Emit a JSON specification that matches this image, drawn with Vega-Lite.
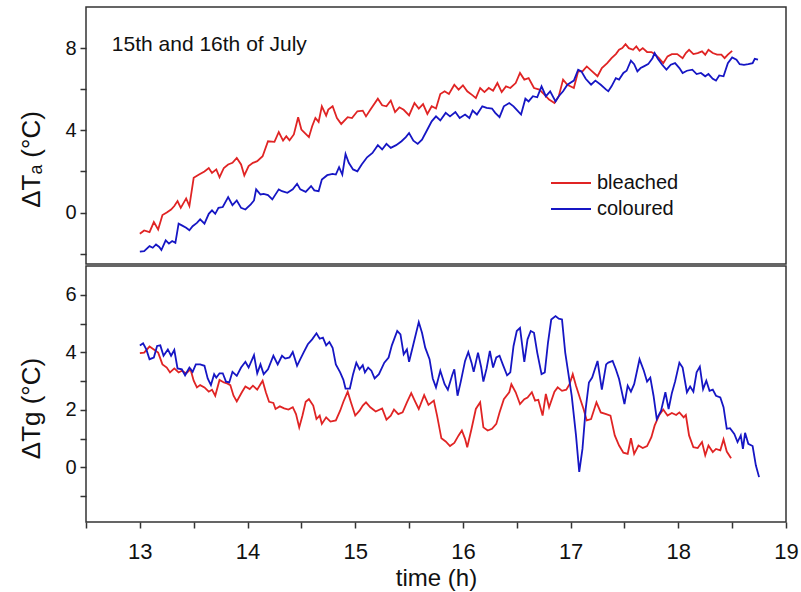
{
"$schema": "https://vega.github.io/schema/vega-lite/v6.json",
"padding": {"left": 18, "top": 6, "right": 5, "bottom": 5},
"background": "white",
"spacing": 0,
"config": {
 "font": "Liberation Sans",
 "view": {"stroke": "#333333", "strokeWidth": 1.5},
 "axis": {"domain": false, "grid": false, "tickColor": "#333333", "tickWidth": 1.5, "tickSize": 6, "labelColor": "#111111", "titleColor": "#111111", "titleFontWeight": "normal", "labelOverlap": false, "labelFlush": false}
},
"datasets": {
 "ta": [
{"series":"bleached","time":13.00,"value":-1.03},{"series":"bleached","time":13.04,"value":-0.87},{"series":"bleached","time":13.09,"value":-0.95},{"series":"bleached","time":13.13,"value":-0.46},{"series":"bleached","time":13.17,"value":-0.82},{"series":"bleached","time":13.21,"value":-0.12},{"series":"bleached","time":13.25,"value":0.0},{"series":"bleached","time":13.29,"value":0.15},{"series":"bleached","time":13.32,"value":0.32},{"series":"bleached","time":13.35,"value":0.56},{"series":"bleached","time":13.38,"value":0.23},{"series":"bleached","time":13.43,"value":0.69},{"series":"bleached","time":13.46,"value":0.32},{"series":"bleached","time":13.50,"value":1.69},{"series":"bleached","time":13.55,"value":1.85},{"series":"bleached","time":13.60,"value":2.0},{"series":"bleached","time":13.64,"value":2.17},{"series":"bleached","time":13.67,"value":1.93},{"series":"bleached","time":13.71,"value":2.1},{"series":"bleached","time":13.74,"value":1.72},{"series":"bleached","time":13.78,"value":2.17},{"series":"bleached","time":13.82,"value":2.34},{"series":"bleached","time":13.86,"value":2.42},{"series":"bleached","time":13.90,"value":2.66},{"series":"bleached","time":13.94,"value":2.34},{"series":"bleached","time":13.97,"value":1.81},{"series":"bleached","time":14.01,"value":2.26},{"series":"bleached","time":14.05,"value":2.42},{"series":"bleached","time":14.09,"value":2.5},{"series":"bleached","time":14.14,"value":2.74},{"series":"bleached","time":14.19,"value":3.47},{"series":"bleached","time":14.25,"value":3.44},{"series":"bleached","time":14.29,"value":3.92},{"series":"bleached","time":14.33,"value":3.5},{"series":"bleached","time":14.36,"value":3.71},{"series":"bleached","time":14.39,"value":3.52},{"series":"bleached","time":14.43,"value":3.8},{"series":"bleached","time":14.47,"value":4.64},{"series":"bleached","time":14.50,"value":4.04},{"series":"bleached","time":14.54,"value":3.83},{"series":"bleached","time":14.57,"value":3.67},{"series":"bleached","time":14.60,"value":4.2},{"series":"bleached","time":14.63,"value":4.6},{"series":"bleached","time":14.66,"value":4.41},{"series":"bleached","time":14.69,"value":5.17},{"series":"bleached","time":14.73,"value":4.72},{"series":"bleached","time":14.75,"value":5.01},{"series":"bleached","time":14.79,"value":5.17},{"series":"bleached","time":14.83,"value":4.6},{"series":"bleached","time":14.87,"value":4.31},{"series":"bleached","time":14.93,"value":4.64},{"series":"bleached","time":14.97,"value":4.6},{"series":"bleached","time":15.02,"value":4.93},{"series":"bleached","time":15.07,"value":4.96},{"series":"bleached","time":15.10,"value":4.68},{"series":"bleached","time":15.14,"value":5.0},{"series":"bleached","time":15.21,"value":5.54},{"series":"bleached","time":15.25,"value":5.22},{"series":"bleached","time":15.29,"value":5.17},{"series":"bleached","time":15.33,"value":5.45},{"series":"bleached","time":15.37,"value":4.89},{"series":"bleached","time":15.41,"value":5.12},{"series":"bleached","time":15.45,"value":5.0},{"series":"bleached","time":15.50,"value":4.73},{"series":"bleached","time":15.55,"value":5.33},{"series":"bleached","time":15.59,"value":5.06},{"series":"bleached","time":15.63,"value":5.28},{"series":"bleached","time":15.67,"value":4.8},{"series":"bleached","time":15.71,"value":5.17},{"series":"bleached","time":15.75,"value":5.06},{"series":"bleached","time":15.79,"value":5.77},{"series":"bleached","time":15.83,"value":5.9},{"series":"bleached","time":15.87,"value":5.77},{"series":"bleached","time":15.92,"value":6.22},{"series":"bleached","time":15.96,"value":5.98},{"series":"bleached","time":16.00,"value":6.19},{"series":"bleached","time":16.04,"value":5.9},{"series":"bleached","time":16.09,"value":5.7},{"series":"bleached","time":16.12,"value":5.57},{"series":"bleached","time":16.16,"value":6.06},{"series":"bleached","time":16.20,"value":5.86},{"series":"bleached","time":16.24,"value":6.06},{"series":"bleached","time":16.28,"value":5.93},{"series":"bleached","time":16.32,"value":6.30},{"series":"bleached","time":16.36,"value":5.86},{"series":"bleached","time":16.40,"value":6.14},{"series":"bleached","time":16.44,"value":6.06},{"series":"bleached","time":16.49,"value":6.30},{"series":"bleached","time":16.53,"value":6.79},{"series":"bleached","time":16.57,"value":6.47},{"series":"bleached","time":16.61,"value":6.54},{"series":"bleached","time":16.66,"value":6.06},{"series":"bleached","time":16.71,"value":5.98},{"series":"bleached","time":16.75,"value":5.77},{"series":"bleached","time":16.80,"value":5.5},{"series":"bleached","time":16.85,"value":5.33},{"series":"bleached","time":16.89,"value":5.66},{"series":"bleached","time":16.93,"value":6.47},{"series":"bleached","time":16.97,"value":6.22},{"series":"bleached","time":17.03,"value":6.06},{"series":"bleached","time":17.07,"value":6.87},{"series":"bleached","time":17.11,"value":6.87},{"series":"bleached","time":17.15,"value":7.11},{"series":"bleached","time":17.20,"value":6.87},{"series":"bleached","time":17.25,"value":6.63},{"series":"bleached","time":17.29,"value":7.03},{"series":"bleached","time":17.34,"value":7.27},{"series":"bleached","time":17.38,"value":7.51},{"series":"bleached","time":17.42,"value":7.71},{"series":"bleached","time":17.45,"value":7.92},{"series":"bleached","time":17.48,"value":8.0},{"series":"bleached","time":17.51,"value":8.19},{"series":"bleached","time":17.54,"value":8.0},{"series":"bleached","time":17.58,"value":7.92},{"series":"bleached","time":17.61,"value":8.08},{"series":"bleached","time":17.64,"value":7.87},{"series":"bleached","time":17.67,"value":8.0},{"series":"bleached","time":17.71,"value":7.81},{"series":"bleached","time":17.75,"value":7.81},{"series":"bleached","time":17.78,"value":7.71},{"series":"bleached","time":17.82,"value":7.51},{"series":"bleached","time":17.86,"value":7.27},{"series":"bleached","time":17.90,"value":7.6},{"series":"bleached","time":17.94,"value":7.71},{"series":"bleached","time":17.99,"value":7.71},{"series":"bleached","time":18.04,"value":7.51},{"series":"bleached","time":18.07,"value":7.76},{"series":"bleached","time":18.10,"value":7.92},{"series":"bleached","time":18.14,"value":7.71},{"series":"bleached","time":18.18,"value":7.76},{"series":"bleached","time":18.22,"value":7.84},{"series":"bleached","time":18.25,"value":7.68},{"series":"bleached","time":18.28,"value":7.92},{"series":"bleached","time":18.32,"value":7.76},{"series":"bleached","time":18.36,"value":7.68},{"series":"bleached","time":18.40,"value":7.68},{"series":"bleached","time":18.43,"value":7.51},{"series":"bleached","time":18.46,"value":7.68},{"series":"bleached","time":18.50,"value":7.87},
{"series":"coloured","time":13.00,"value":-1.9},{"series":"coloured","time":13.04,"value":-1.87},{"series":"coloured","time":13.09,"value":-1.63},{"series":"coloured","time":13.12,"value":-1.71},{"series":"coloured","time":13.15,"value":-1.55},{"series":"coloured","time":13.18,"value":-1.67},{"series":"coloured","time":13.20,"value":-1.82},{"series":"coloured","time":13.24,"value":-1.35},{"series":"coloured","time":13.27,"value":-1.51},{"series":"coloured","time":13.30,"value":-1.38},{"series":"coloured","time":13.33,"value":-1.47},{"series":"coloured","time":13.36,"value":-0.54},{"series":"coloured","time":13.39,"value":-0.62},{"series":"coloured","time":13.43,"value":-0.74},{"series":"coloured","time":13.46,"value":-0.86},{"series":"coloured","time":13.49,"value":-0.66},{"series":"coloured","time":13.53,"value":-0.5},{"series":"coloured","time":13.56,"value":-0.33},{"series":"coloured","time":13.60,"value":-0.54},{"series":"coloured","time":13.64,"value":-0.06},{"series":"coloured","time":13.67,"value":0.11},{"series":"coloured","time":13.70,"value":-0.06},{"series":"coloured","time":13.73,"value":0.23},{"series":"coloured","time":13.77,"value":0.27},{"series":"coloured","time":13.82,"value":0.75},{"series":"coloured","time":13.86,"value":0.36},{"series":"coloured","time":13.90,"value":0.59},{"series":"coloured","time":13.94,"value":0.23},{"series":"coloured","time":13.98,"value":0.15},{"series":"coloured","time":14.03,"value":0.40},{"series":"coloured","time":14.06,"value":0.59},{"series":"coloured","time":14.08,"value":1.13},{"series":"coloured","time":14.12,"value":0.88},{"series":"coloured","time":14.15,"value":0.91},{"series":"coloured","time":14.19,"value":0.85},{"series":"coloured","time":14.23,"value":0.64},{"series":"coloured","time":14.29,"value":1.13},{"series":"coloured","time":14.32,"value":1.04},{"series":"coloured","time":14.37,"value":0.96},{"series":"coloured","time":14.42,"value":1.13},{"series":"coloured","time":14.46,"value":1.4},{"series":"coloured","time":14.49,"value":1.13},{"series":"coloured","time":14.54,"value":1.01},{"series":"coloured","time":14.59,"value":1.29},{"series":"coloured","time":14.62,"value":1.08},{"series":"coloured","time":14.66,"value":1.04},{"series":"coloured","time":14.69,"value":1.61},{"series":"coloured","time":14.74,"value":1.82},{"series":"coloured","time":14.79,"value":1.88},{"series":"coloured","time":14.82,"value":1.85},{"series":"coloured","time":14.85,"value":2.21},{"series":"coloured","time":14.88,"value":1.85},{"series":"coloured","time":14.91,"value":2.85},{"series":"coloured","time":14.94,"value":2.42},{"series":"coloured","time":14.98,"value":2.10},{"series":"coloured","time":15.02,"value":2.01},{"series":"coloured","time":15.06,"value":2.34},{"series":"coloured","time":15.11,"value":2.69},{"series":"coloured","time":15.16,"value":2.9},{"series":"coloured","time":15.21,"value":3.28},{"series":"coloured","time":15.25,"value":3.07},{"series":"coloured","time":15.29,"value":3.34},{"series":"coloured","time":15.33,"value":3.15},{"series":"coloured","time":15.38,"value":3.28},{"series":"coloured","time":15.43,"value":3.47},{"series":"coloured","time":15.47,"value":3.67},{"series":"coloured","time":15.50,"value":3.87},{"series":"coloured","time":15.54,"value":3.5},{"series":"coloured","time":15.58,"value":3.34},{"series":"coloured","time":15.62,"value":3.55},{"series":"coloured","time":15.67,"value":4.04},{"series":"coloured","time":15.71,"value":4.44},{"series":"coloured","time":15.75,"value":4.68},{"series":"coloured","time":15.79,"value":4.48},{"series":"coloured","time":15.84,"value":4.85},{"series":"coloured","time":15.88,"value":4.68},{"series":"coloured","time":15.93,"value":4.89},{"series":"coloured","time":15.97,"value":4.6},{"series":"coloured","time":16.02,"value":4.77},{"series":"coloured","time":16.06,"value":4.6},{"series":"coloured","time":16.09,"value":4.96},{"series":"coloured","time":16.13,"value":4.77},{"series":"coloured","time":16.18,"value":5.17},{"series":"coloured","time":16.22,"value":5.09},{"series":"coloured","time":16.27,"value":5.06},{"series":"coloured","time":16.30,"value":4.85},{"series":"coloured","time":16.34,"value":4.64},{"series":"coloured","time":16.38,"value":5.17},{"series":"coloured","time":16.43,"value":5.33},{"series":"coloured","time":16.47,"value":5.17},{"series":"coloured","time":16.50,"value":5.0},{"series":"coloured","time":16.54,"value":4.77},{"series":"coloured","time":16.58,"value":5.54},{"series":"coloured","time":16.61,"value":5.41},{"series":"coloured","time":16.65,"value":5.66},{"series":"coloured","time":16.69,"value":5.61},{"series":"coloured","time":16.73,"value":6.14},{"series":"coloured","time":16.77,"value":5.66},{"series":"coloured","time":16.81,"value":5.9},{"series":"coloured","time":16.86,"value":5.41},{"series":"coloured","time":16.89,"value":5.66},{"series":"coloured","time":16.93,"value":5.9},{"series":"coloured","time":16.97,"value":6.22},{"series":"coloured","time":17.03,"value":6.42},{"series":"coloured","time":17.07,"value":6.95},{"series":"coloured","time":17.10,"value":6.87},{"series":"coloured","time":17.14,"value":6.51},{"series":"coloured","time":17.19,"value":6.22},{"series":"coloured","time":17.23,"value":6.42},{"series":"coloured","time":17.28,"value":6.22},{"series":"coloured","time":17.33,"value":5.98},{"series":"coloured","time":17.35,"value":5.9},{"series":"coloured","time":17.38,"value":6.14},{"series":"coloured","time":17.42,"value":6.54},{"series":"coloured","time":17.45,"value":6.47},{"series":"coloured","time":17.49,"value":6.79},{"series":"coloured","time":17.52,"value":6.9},{"series":"coloured","time":17.56,"value":7.39},{"series":"coloured","time":17.59,"value":7.22},{"series":"coloured","time":17.62,"value":6.87},{"series":"coloured","time":17.65,"value":7.03},{"series":"coloured","time":17.68,"value":7.11},{"series":"coloured","time":17.72,"value":7.22},{"series":"coloured","time":17.76,"value":7.51},{"series":"coloured","time":17.78,"value":7.76},{"series":"coloured","time":17.81,"value":7.48},{"series":"coloured","time":17.85,"value":7.19},{"series":"coloured","time":17.89,"value":6.95},{"series":"coloured","time":17.93,"value":7.19},{"series":"coloured","time":17.97,"value":7.27},{"series":"coloured","time":18.01,"value":7.03},{"series":"coloured","time":18.04,"value":6.79},{"series":"coloured","time":18.08,"value":6.9},{"series":"coloured","time":18.13,"value":6.95},{"series":"coloured","time":18.17,"value":6.74},{"series":"coloured","time":18.21,"value":6.79},{"series":"coloured","time":18.25,"value":6.63},{"series":"coloured","time":18.28,"value":6.74},{"series":"coloured","time":18.32,"value":6.51},{"series":"coloured","time":18.35,"value":6.42},{"series":"coloured","time":18.38,"value":6.67},{"series":"coloured","time":18.42,"value":6.63},{"series":"coloured","time":18.46,"value":7.27},{"series":"coloured","time":18.50,"value":7.55},{"series":"coloured","time":18.54,"value":7.44},{"series":"coloured","time":18.57,"value":7.22},{"series":"coloured","time":18.61,"value":7.19},{"series":"coloured","time":18.65,"value":7.22},{"series":"coloured","time":18.69,"value":7.27},{"series":"coloured","time":18.71,"value":7.48},{"series":"coloured","time":18.74,"value":7.44}
 ],
 "tg": [
{"series":"bleached","time":13.00,"value":3.97},{"series":"bleached","time":13.04,"value":3.99},{"series":"bleached","time":13.09,"value":4.2},{"series":"bleached","time":13.13,"value":4.1},{"series":"bleached","time":13.17,"value":3.99},{"series":"bleached","time":13.21,"value":3.58},{"series":"bleached","time":13.25,"value":3.47},{"series":"bleached","time":13.28,"value":3.3},{"series":"bleached","time":13.32,"value":3.44},{"series":"bleached","time":13.36,"value":3.3},{"series":"bleached","time":13.39,"value":3.36},{"series":"bleached","time":13.43,"value":3.27},{"series":"bleached","time":13.47,"value":3.41},{"series":"bleached","time":13.50,"value":3.01},{"series":"bleached","time":13.53,"value":2.78},{"series":"bleached","time":13.56,"value":2.86},{"series":"bleached","time":13.60,"value":2.78},{"series":"bleached","time":13.64,"value":2.63},{"series":"bleached","time":13.67,"value":2.7},{"series":"bleached","time":13.70,"value":2.49},{"series":"bleached","time":13.74,"value":3.04},{"series":"bleached","time":13.78,"value":2.95},{"series":"bleached","time":13.81,"value":2.92},{"series":"bleached","time":13.84,"value":2.86},{"series":"bleached","time":13.87,"value":2.49},{"series":"bleached","time":13.90,"value":2.29},{"series":"bleached","time":13.95,"value":2.63},{"series":"bleached","time":13.98,"value":2.81},{"series":"bleached","time":14.02,"value":2.72},{"series":"bleached","time":14.05,"value":2.84},{"series":"bleached","time":14.09,"value":2.7},{"series":"bleached","time":14.12,"value":2.89},{"series":"bleached","time":14.14,"value":3.01},{"series":"bleached","time":14.17,"value":2.61},{"series":"bleached","time":14.20,"value":2.28},{"series":"bleached","time":14.24,"value":2.24},{"series":"bleached","time":14.26,"value":2.03},{"series":"bleached","time":14.30,"value":2.12},{"series":"bleached","time":14.34,"value":2.05},{"series":"bleached","time":14.38,"value":2.01},{"series":"bleached","time":14.42,"value":2.09},{"series":"bleached","time":14.45,"value":1.85},{"series":"bleached","time":14.48,"value":1.39},{"series":"bleached","time":14.51,"value":1.8},{"series":"bleached","time":14.54,"value":2.28},{"series":"bleached","time":14.57,"value":2.37},{"series":"bleached","time":14.61,"value":2.15},{"series":"bleached","time":14.64,"value":1.68},{"series":"bleached","time":14.67,"value":1.8},{"series":"bleached","time":14.69,"value":1.51},{"series":"bleached","time":14.73,"value":1.74},{"series":"bleached","time":14.77,"value":1.59},{"series":"bleached","time":14.82,"value":1.63},{"series":"bleached","time":14.86,"value":1.97},{"series":"bleached","time":14.89,"value":2.28},{"series":"bleached","time":14.93,"value":2.63},{"series":"bleached","time":14.96,"value":2.26},{"series":"bleached","time":15.00,"value":1.8},{"series":"bleached","time":15.04,"value":1.97},{"series":"bleached","time":15.07,"value":2.15},{"series":"bleached","time":15.10,"value":2.26},{"series":"bleached","time":15.14,"value":2.09},{"series":"bleached","time":15.19,"value":1.94},{"series":"bleached","time":15.25,"value":2.05},{"series":"bleached","time":15.29,"value":1.66},{"series":"bleached","time":15.33,"value":1.8},{"series":"bleached","time":15.36,"value":2.01},{"series":"bleached","time":15.40,"value":1.85},{"series":"bleached","time":15.44,"value":1.91},{"series":"bleached","time":15.48,"value":2.26},{"series":"bleached","time":15.52,"value":2.58},{"series":"bleached","time":15.56,"value":2.26},{"series":"bleached","time":15.59,"value":2.03},{"series":"bleached","time":15.64,"value":2.51},{"series":"bleached","time":15.68,"value":2.17},{"series":"bleached","time":15.73,"value":2.32},{"series":"bleached","time":15.76,"value":1.8},{"series":"bleached","time":15.80,"value":1.01},{"series":"bleached","time":15.84,"value":0.9},{"series":"bleached","time":15.88,"value":0.74},{"series":"bleached","time":15.92,"value":0.85},{"series":"bleached","time":15.96,"value":1.11},{"series":"bleached","time":15.99,"value":1.28},{"series":"bleached","time":16.02,"value":0.99},{"series":"bleached","time":16.04,"value":0.70},{"series":"bleached","time":16.08,"value":1.34},{"series":"bleached","time":16.12,"value":2.03},{"series":"bleached","time":16.16,"value":2.26},{"series":"bleached","time":16.19,"value":1.39},{"series":"bleached","time":16.23,"value":1.28},{"series":"bleached","time":16.27,"value":1.34},{"series":"bleached","time":16.31,"value":1.51},{"series":"bleached","time":16.34,"value":1.91},{"series":"bleached","time":16.38,"value":2.37},{"series":"bleached","time":16.43,"value":2.61},{"series":"bleached","time":16.45,"value":2.89},{"series":"bleached","time":16.49,"value":2.61},{"series":"bleached","time":16.53,"value":2.2},{"series":"bleached","time":16.57,"value":2.37},{"series":"bleached","time":16.60,"value":2.43},{"series":"bleached","time":16.64,"value":2.61},{"series":"bleached","time":16.67,"value":2.32},{"series":"bleached","time":16.70,"value":2.35},{"series":"bleached","time":16.74,"value":1.8},{"series":"bleached","time":16.77,"value":2.55},{"series":"bleached","time":16.80,"value":2.09},{"series":"bleached","time":16.85,"value":2.63},{"series":"bleached","time":16.88,"value":2.78},{"series":"bleached","time":16.92,"value":2.66},{"series":"bleached","time":16.96,"value":2.7},{"series":"bleached","time":16.99,"value":2.89},{"series":"bleached","time":17.02,"value":3.24},{"series":"bleached","time":17.05,"value":2.84},{"series":"bleached","time":17.09,"value":2.37},{"series":"bleached","time":17.12,"value":2.03},{"series":"bleached","time":17.15,"value":1.63},{"series":"bleached","time":17.19,"value":1.68},{"series":"bleached","time":17.24,"value":2.26},{"series":"bleached","time":17.28,"value":1.91},{"series":"bleached","time":17.33,"value":1.85},{"series":"bleached","time":17.37,"value":1.8},{"series":"bleached","time":17.41,"value":1.11},{"series":"bleached","time":17.45,"value":0.76},{"series":"bleached","time":17.49,"value":0.51},{"series":"bleached","time":17.53,"value":0.47},{"series":"bleached","time":17.56,"value":1.01},{"series":"bleached","time":17.59,"value":0.47},{"series":"bleached","time":17.63,"value":0.76},{"series":"bleached","time":17.67,"value":0.67},{"series":"bleached","time":17.71,"value":0.74},{"series":"bleached","time":17.75,"value":1.05},{"series":"bleached","time":17.78,"value":1.45},{"series":"bleached","time":17.82,"value":1.8},{"series":"bleached","time":17.86,"value":2.01},{"series":"bleached","time":17.90,"value":1.8},{"series":"bleached","time":17.94,"value":1.89},{"series":"bleached","time":17.98,"value":1.82},{"series":"bleached","time":18.01,"value":1.91},{"series":"bleached","time":18.05,"value":1.74},{"series":"bleached","time":18.07,"value":1.82},{"series":"bleached","time":18.10,"value":1.11},{"series":"bleached","time":18.14,"value":0.70},{"series":"bleached","time":18.18,"value":0.67},{"series":"bleached","time":18.22,"value":0.88},{"series":"bleached","time":18.25,"value":0.42},{"series":"bleached","time":18.28,"value":0.76},{"series":"bleached","time":18.32,"value":0.53},{"series":"bleached","time":18.35,"value":0.64},{"series":"bleached","time":18.39,"value":0.59},{"series":"bleached","time":18.42,"value":0.97},{"series":"bleached","time":18.45,"value":0.55},{"series":"bleached","time":18.49,"value":0.32},
{"series":"coloured","time":13.00,"value":4.24},{"series":"coloured","time":13.03,"value":4.31},{"series":"coloured","time":13.06,"value":4.1},{"series":"coloured","time":13.09,"value":3.76},{"series":"coloured","time":13.13,"value":3.82},{"series":"coloured","time":13.16,"value":4.22},{"series":"coloured","time":13.19,"value":4.24},{"series":"coloured","time":13.22,"value":3.88},{"series":"coloured","time":13.26,"value":4.1},{"series":"coloured","time":13.29,"value":3.88},{"series":"coloured","time":13.32,"value":4.08},{"series":"coloured","time":13.35,"value":3.44},{"series":"coloured","time":13.39,"value":3.41},{"series":"coloured","time":13.42,"value":3.2},{"series":"coloured","time":13.46,"value":3.47},{"series":"coloured","time":13.49,"value":3.32},{"series":"coloured","time":13.52,"value":3.58},{"series":"coloured","time":13.56,"value":3.58},{"series":"coloured","time":13.60,"value":3.53},{"series":"coloured","time":13.63,"value":3.09},{"series":"coloured","time":13.66,"value":2.86},{"series":"coloured","time":13.69,"value":3.24},{"series":"coloured","time":13.71,"value":3.12},{"series":"coloured","time":13.74,"value":3.27},{"series":"coloured","time":13.77,"value":3.27},{"series":"coloured","time":13.80,"value":2.98},{"series":"coloured","time":13.83,"value":2.95},{"series":"coloured","time":13.86,"value":3.32},{"series":"coloured","time":13.90,"value":3.18},{"series":"coloured","time":13.94,"value":3.47},{"series":"coloured","time":13.98,"value":3.67},{"series":"coloured","time":14.01,"value":3.47},{"series":"coloured","time":14.06,"value":3.9},{"series":"coloured","time":14.09,"value":3.27},{"series":"coloured","time":14.12,"value":3.58},{"series":"coloured","time":14.15,"value":3.24},{"series":"coloured","time":14.19,"value":3.41},{"series":"coloured","time":14.24,"value":3.88},{"series":"coloured","time":14.28,"value":3.58},{"series":"coloured","time":14.32,"value":3.88},{"series":"coloured","time":14.35,"value":3.78},{"series":"coloured","time":14.39,"value":3.82},{"series":"coloured","time":14.42,"value":4.01},{"series":"coloured","time":14.46,"value":3.53},{"series":"coloured","time":14.49,"value":3.76},{"series":"coloured","time":14.52,"value":3.99},{"series":"coloured","time":14.56,"value":4.28},{"series":"coloured","time":14.60,"value":4.45},{"series":"coloured","time":14.64,"value":4.66},{"series":"coloured","time":14.67,"value":4.47},{"series":"coloured","time":14.70,"value":4.51},{"series":"coloured","time":14.73,"value":4.24},{"series":"coloured","time":14.76,"value":4.36},{"series":"coloured","time":14.79,"value":4.16},{"series":"coloured","time":14.82,"value":3.58},{"series":"coloured","time":14.86,"value":3.3},{"series":"coloured","time":14.89,"value":3.04},{"series":"coloured","time":14.91,"value":2.74},{"series":"coloured","time":14.95,"value":2.74},{"series":"coloured","time":14.98,"value":3.24},{"series":"coloured","time":15.01,"value":3.64},{"series":"coloured","time":15.04,"value":3.41},{"series":"coloured","time":15.07,"value":3.55},{"series":"coloured","time":15.09,"value":3.3},{"series":"coloured","time":15.12,"value":3.47},{"series":"coloured","time":15.15,"value":3.36},{"series":"coloured","time":15.18,"value":3.09},{"series":"coloured","time":15.22,"value":3.24},{"series":"coloured","time":15.27,"value":3.64},{"series":"coloured","time":15.31,"value":3.82},{"series":"coloured","time":15.34,"value":4.24},{"series":"coloured","time":15.39,"value":4.74},{"series":"coloured","time":15.42,"value":4.62},{"series":"coloured","time":15.45,"value":3.93},{"series":"coloured","time":15.48,"value":4.1},{"series":"coloured","time":15.50,"value":3.67},{"series":"coloured","time":15.54,"value":4.28},{"series":"coloured","time":15.59,"value":5.05},{"series":"coloured","time":15.62,"value":4.68},{"series":"coloured","time":15.65,"value":4.16},{"series":"coloured","time":15.69,"value":3.76},{"series":"coloured","time":15.72,"value":3.09},{"series":"coloured","time":15.75,"value":2.78},{"series":"coloured","time":15.79,"value":3.36},{"series":"coloured","time":15.83,"value":2.89},{"series":"coloured","time":15.86,"value":2.7},{"series":"coloured","time":15.90,"value":3.2},{"series":"coloured","time":15.92,"value":3.41},{"series":"coloured","time":15.95,"value":2.49},{"series":"coloured","time":15.98,"value":2.98},{"series":"coloured","time":16.02,"value":3.7},{"series":"coloured","time":16.05,"value":4.01},{"series":"coloured","time":16.08,"value":3.64},{"series":"coloured","time":16.10,"value":3.32},{"series":"coloured","time":16.14,"value":3.99},{"series":"coloured","time":16.17,"value":3.47},{"series":"coloured","time":16.19,"value":2.98},{"series":"coloured","time":16.22,"value":3.44},{"series":"coloured","time":16.25,"value":4.05},{"series":"coloured","time":16.28,"value":3.47},{"series":"coloured","time":16.31,"value":3.82},{"series":"coloured","time":16.34,"value":3.88},{"series":"coloured","time":16.37,"value":3.58},{"series":"coloured","time":16.41,"value":3.2},{"series":"coloured","time":16.44,"value":3.3},{"series":"coloured","time":16.47,"value":4.22},{"series":"coloured","time":16.50,"value":4.74},{"series":"coloured","time":16.53,"value":4.85},{"series":"coloured","time":16.57,"value":3.67},{"series":"coloured","time":16.60,"value":4.45},{"series":"coloured","time":16.63,"value":4.74},{"series":"coloured","time":16.66,"value":4.68},{"series":"coloured","time":16.69,"value":3.99},{"series":"coloured","time":16.73,"value":3.24},{"series":"coloured","time":16.76,"value":3.3},{"series":"coloured","time":16.79,"value":4.34},{"series":"coloured","time":16.82,"value":5.14},{"series":"coloured","time":16.86,"value":5.26},{"series":"coloured","time":16.89,"value":5.17},{"series":"coloured","time":16.92,"value":5.14},{"series":"coloured","time":16.95,"value":3.99},{"series":"coloured","time":16.98,"value":3.24},{"series":"coloured","time":17.01,"value":2.49},{"series":"coloured","time":17.05,"value":1.11},{"series":"coloured","time":17.08,"value":-0.16},{"series":"coloured","time":17.11,"value":0.64},{"series":"coloured","time":17.14,"value":2.03},{"series":"coloured","time":17.17,"value":2.95},{"series":"coloured","time":17.20,"value":3.12},{"series":"coloured","time":17.25,"value":3.7},{"series":"coloured","time":17.29,"value":2.7},{"series":"coloured","time":17.33,"value":3.58},{"series":"coloured","time":17.35,"value":3.64},{"series":"coloured","time":17.39,"value":3.7},{"series":"coloured","time":17.42,"value":3.41},{"series":"coloured","time":17.45,"value":3.07},{"series":"coloured","time":17.50,"value":2.2},{"series":"coloured","time":17.53,"value":2.84},{"series":"coloured","time":17.56,"value":2.63},{"series":"coloured","time":17.59,"value":2.89},{"series":"coloured","time":17.64,"value":3.76},{"series":"coloured","time":17.68,"value":3.36},{"series":"coloured","time":17.71,"value":2.98},{"series":"coloured","time":17.74,"value":3.12},{"series":"coloured","time":17.77,"value":2.49},{"series":"coloured","time":17.80,"value":1.68},{"series":"coloured","time":17.84,"value":1.97},{"series":"coloured","time":17.88,"value":2.61},{"series":"coloured","time":17.91,"value":2.03},{"series":"coloured","time":17.94,"value":2.58},{"series":"coloured","time":17.97,"value":2.98},{"series":"coloured","time":18.01,"value":3.64},{"series":"coloured","time":18.04,"value":3.47},{"series":"coloured","time":18.08,"value":2.61},{"series":"coloured","time":18.11,"value":2.81},{"series":"coloured","time":18.14,"value":2.63},{"series":"coloured","time":18.17,"value":3.3},{"series":"coloured","time":18.20,"value":3.5},{"series":"coloured","time":18.23,"value":2.72},{"series":"coloured","time":18.26,"value":3.01},{"series":"coloured","time":18.29,"value":2.66},{"series":"coloured","time":18.32,"value":2.7},{"series":"coloured","time":18.35,"value":2.49},{"series":"coloured","time":18.39,"value":2.43},{"series":"coloured","time":18.42,"value":2.09},{"series":"coloured","time":18.45,"value":1.34},{"series":"coloured","time":18.48,"value":1.36},{"series":"coloured","time":18.52,"value":1.16},{"series":"coloured","time":18.55,"value":0.88},{"series":"coloured","time":18.58,"value":1.11},{"series":"coloured","time":18.60,"value":0.64},{"series":"coloured","time":18.62,"value":1.2},{"series":"coloured","time":18.65,"value":0.82},{"series":"coloured","time":18.69,"value":0.74},{"series":"coloured","time":18.72,"value":0.07},{"series":"coloured","time":18.75,"value":-0.34}
 ],
 "note": [{"label": "15th and 16th of July", "time": 12.74, "value": 8.13}]
},
"resolve": {"scale": {"color": "independent"}},
"vconcat": [
 {
  "width": 700, "height": 257,
  "layer": [
   {
    "data": {"name": "ta"},
    "mark": {"type": "line", "strokeWidth": 1.8, "clip": true},
    "encoding": {
     "x": {"field": "time", "type": "quantitative", "scale": {"domain": [12.5, 19], "nice": false, "zero": false}, "axis": null},
     "y": {"field": "value", "type": "quantitative", "scale": {"domain": [-2.5, 10], "nice": false, "zero": false},
           "axis": {"values": [-2, 0, 2, 4, 6, 8], "labelExpr": "datum.value % 4 === 0 ? datum.label : ''", "title": "ΔTₐ (°C)", "labelFontSize": 20, "labelPadding": 4, "titleFontSize": 26, "titlePadding": 20, "titleY": 152}},
     "color": {"field": "series", "type": "nominal", "scale": {"domain": ["bleached", "coloured"], "range": ["#e02424", "#1616c4"]},
               "legend": {"orient": "none", "legendX": 464, "legendY": 164, "title": null, "symbolType": "stroke", "symbolSize": 1600, "symbolStrokeWidth": 1.8, "labelFontSize": 20, "labelOffset": 5, "labelColor": "#111111", "clipHeight": 24, "rowPadding": 2}}
    }
   },
   {
    "data": {"name": "note"},
    "mark": {"type": "text", "align": "left", "baseline": "middle", "fontSize": 21, "color": "#111111"},
    "encoding": {
     "x": {"field": "time", "type": "quantitative"},
     "y": {"field": "value", "type": "quantitative"},
     "text": {"field": "label"}
    }
   }
  ]
 },
 {
  "width": 700, "height": 256,
  "data": {"name": "tg"},
  "mark": {"type": "line", "strokeWidth": 1.8, "clip": true},
  "encoding": {
   "x": {"field": "time", "type": "quantitative", "scale": {"domain": [12.5, 19], "nice": false, "zero": false},
         "axis": {"values": [12.5, 13, 13.5, 14, 14.5, 15, 15.5, 16, 16.5, 17, 17.5, 18, 18.5, 19], "labelExpr": "datum.value % 1 === 0 ? '' + datum.value : ''", "title": "time (h)", "labelFontSize": 22, "labelPadding": 13, "titleFontSize": 24, "titlePadding": 4}},
   "y": {"field": "value", "type": "quantitative", "scale": {"domain": [-1.9, 7], "nice": false, "zero": false},
         "axis": {"values": [-1, 0, 1, 2, 3, 4, 5, 6], "labelExpr": "datum.value % 2 === 0 ? datum.label : ''", "title": "ΔTg (°C)", "labelFontSize": 20, "labelPadding": 4, "titleFontSize": 26, "titlePadding": 20, "titleY": 142}},
   "color": {"field": "series", "type": "nominal", "scale": {"domain": ["bleached", "coloured"], "range": ["#e02424", "#1616c4"]}, "legend": null}
  }
 }
]
}
